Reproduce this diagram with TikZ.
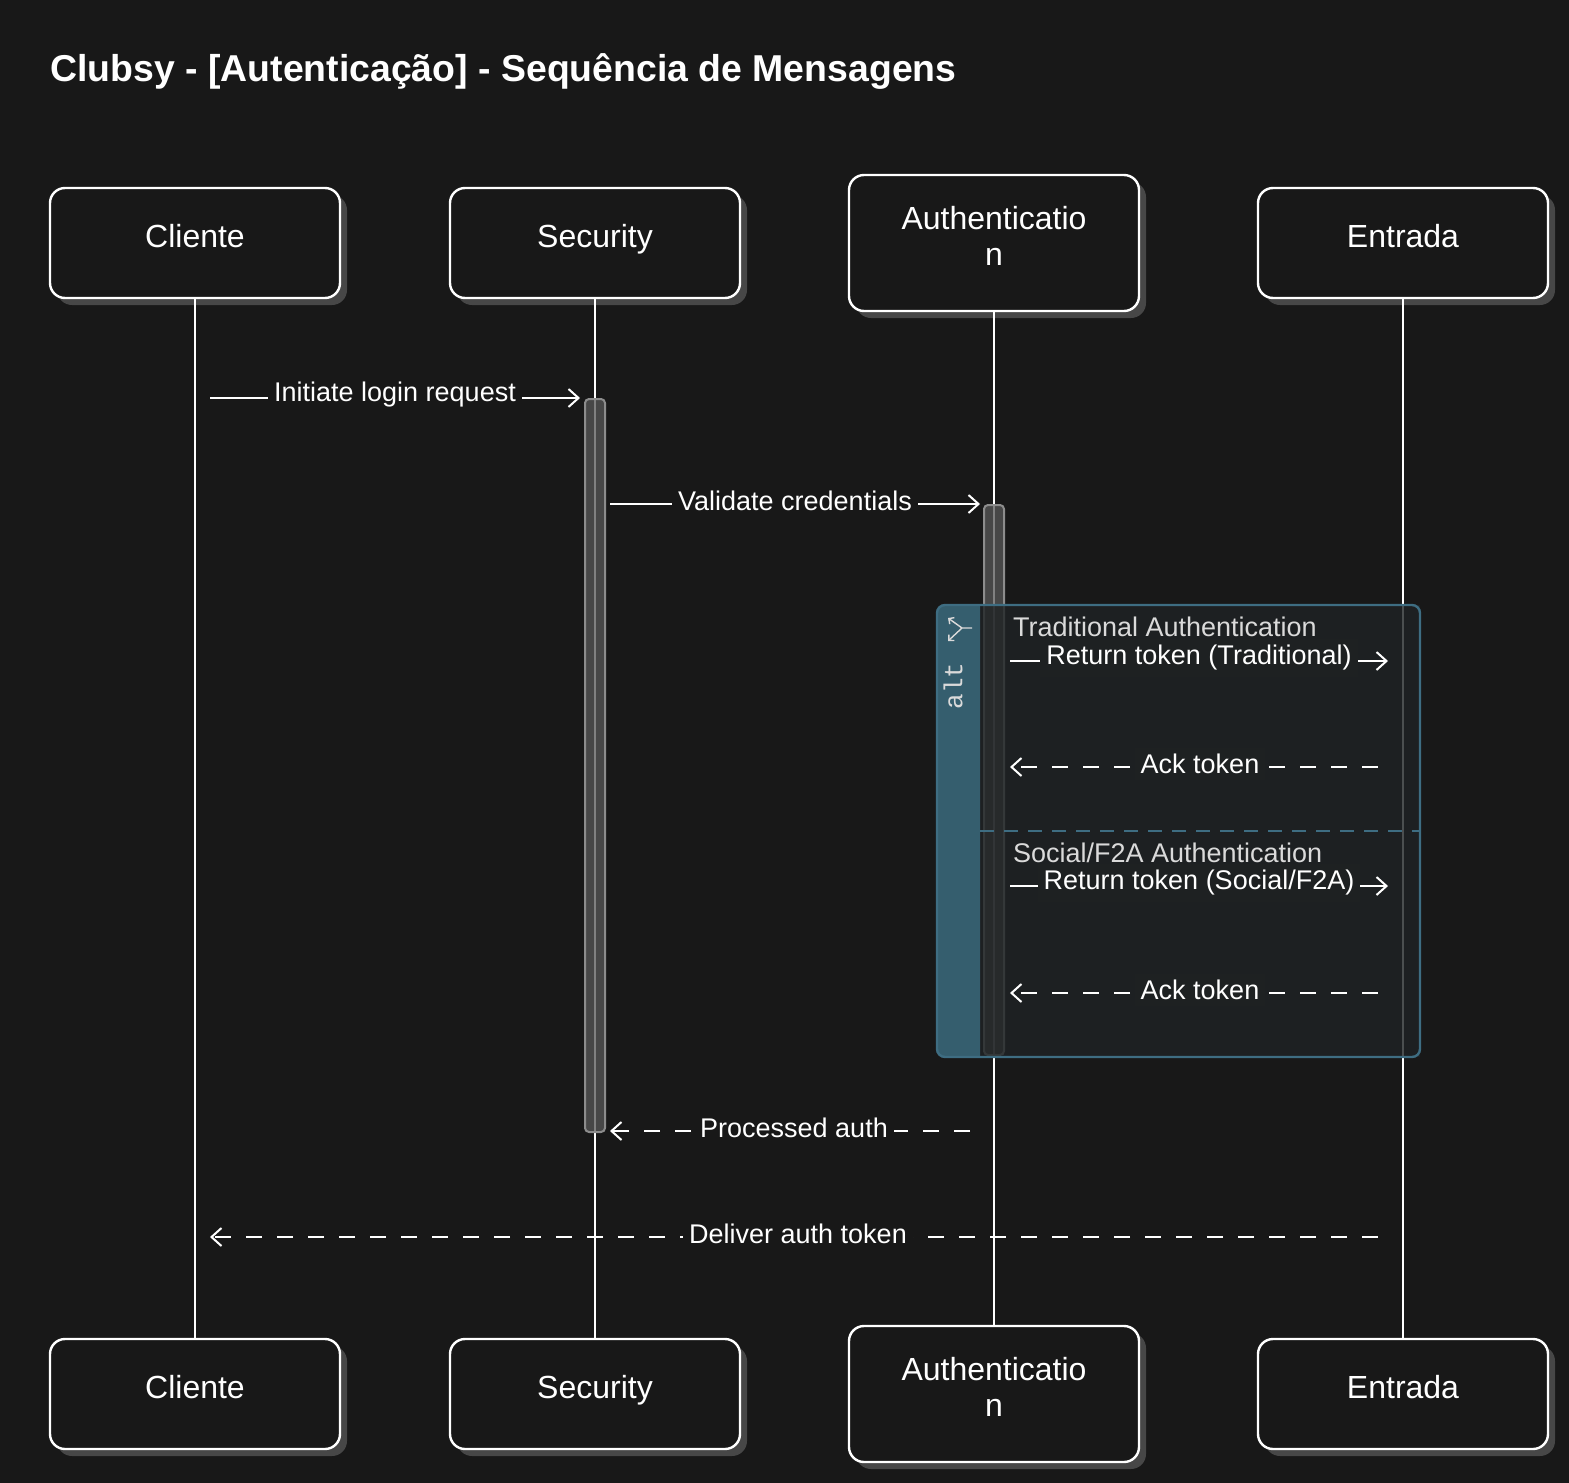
\documentclass[tikz,border=0pt]{standalone}
\usepackage{fontspec}
\setmainfont{Liberation Sans}
\setmonofont{Liberation Mono}
\usetikzlibrary{arrows.meta,calc,shadows}
\definecolor{bgdark}{HTML}{181818}
\definecolor{shadowgray}{HTML}{474747}
\definecolor{altblue}{HTML}{355E6E}
\definecolor{altedge}{HTML}{3E6D82}
\definecolor{altfill}{HTML}{1F2325}
\definecolor{actfill}{HTML}{575757}
\definecolor{actedge}{HTML}{8C8C8C}
\definecolor{lbl}{HTML}{DADADA}
\tikzset{
  actor/.style={draw=white, line width=1.2pt, rounded corners=7.5pt, fill=bgdark, text=white,
    minimum width=145pt, align=center, font=\fontsize{16}{18}\selectfont,
    drop shadow={shadow xshift=3.5pt, shadow yshift=-3.5pt, fill=shadowgray, opacity=1}},
  life/.style={white, line width=1pt},
  act/.style={draw=actedge, fill=actfill, fill opacity=0.75, line width=1pt, rounded corners=2pt},
  msg/.style={white, line width=1pt, -{Straight Barb[length=5pt,width=9pt]}},
  reply/.style={msg, dash pattern=on 8pt off 7.5pt},
  mlabel/.style={fill=bgdark, text=white, inner sep=3pt, yshift=1.5pt, font=\fontsize{13.5}{15}\selectfont},
  inlabel/.style={mlabel, fill=altfill!80!bgdark},
}

\begin{document}
\begin{tikzpicture}[x=0.5pt, y=-0.5pt]
  \fill[bgdark] (0,0) rectangle (1569,1483);
  \useasboundingbox (0,0) rectangle (1569,1483);
  \node[anchor=west, inner sep=0pt, text=white, font=\bfseries\fontsize{18.7}{22}\selectfont] (title) at (50,72)
    {Clubsy - [Autenticação] - Sequência de Mensagens};
  % participants, top and bottom
  \foreach \n/\x/\h/\l in {cli/195/55/Cliente, sec/595/55/Security, auth/994/68/{Authenticatio\\n}, ent/1403/55/Entrada}{
    \node[actor, minimum height=\h pt] (\n) at (\x,243) {\l\rule[-7pt]{0pt}{0pt}};
    \node[actor, minimum height=\h pt] (\n2) at (\x,1394) {\l\rule[-7pt]{0pt}{0pt}};
    \draw[life] (\n.south) -- (\n2.north);}
  % activations
  \draw[act] (585,399) rectangle (605,1132);
  \draw[act] (984,505) rectangle (1004,1055);
  % alt frame
  \fill[altfill, fill opacity=0.8] (980,605) rectangle (1420,1057);
  \fill[altblue] (980,605) [rounded corners=4pt] -- (937,605) -- (937,1057) [sharp corners] -- (980,1057) -- cycle;
  \draw[altedge, line width=1.2pt, rounded corners=4pt] (937,605) rectangle (1420,1057);
  \draw[altedge, line width=1pt, dash pattern=on 7pt off 5pt] (980,831) -- (1420,831);
  \node[rotate=90, text=lbl, font=\ttfamily\fontsize{13}{15}\selectfont] (alttag) at (953,686) {alt};
  \draw[lbl, line width=0.7pt, -{Straight Barb[length=2pt,width=4pt]}] (972,628) -- (962,628) -- (948,618);
  \draw[lbl, line width=0.7pt, -{Straight Barb[length=2pt,width=4pt]}] (962,628) -- (948,641);
  \node[anchor=west, text=lbl, font=\fontsize{13.5}{15}\selectfont] (case1) at (1006,627) {Traditional Authentication};
  \node[anchor=west, text=lbl, font=\fontsize{13.5}{15}\selectfont] (case2) at (1006,853) {Social/F2A Authentication};
  % message ends on the lifelines
  \coordinate (m1a) at (210,398);  \coordinate (m1b) at (580,398);
  \coordinate (m2a) at (610,504);  \coordinate (m2b) at (980,504);
  \coordinate (m3a) at (1010,661); \coordinate (m3b) at (1388,661);
  \coordinate (m4a) at (1378,767); \coordinate (m4b) at (1010,767);
  \coordinate (m5a) at (1010,886); \coordinate (m5b) at (1388,886);
  \coordinate (m6a) at (1378,993); \coordinate (m6b) at (1010,993);
  \coordinate (m7a) at (970,1131); \coordinate (m7b) at (610,1131);
  \coordinate (m8a) at (1378,1237); \coordinate (m8b) at (210,1237);
  % messages
  \draw[msg] (m1a) -- node[mlabel]{Initiate login request} (m1b);
  \draw[msg] (m2a) -- node[mlabel]{Validate credentials} (m2b);
  \draw[msg] (m3a) -- node[inlabel]{Return token (Traditional)} (m3b);
  \draw[reply] (m4a) -- node[inlabel, xshift=3pt]{Ack token} (m4b);
  \draw[msg] (m5a) -- node[inlabel]{Return token (Social/F2A)} (m5b);
  \draw[reply] (m6a) -- node[inlabel, xshift=3pt]{Ack token} (m6b);
  \draw[reply] (m7a) -- node[mlabel, xshift=2pt]{Processed auth} (m7b);
  \draw[reply] (m8a) -- node[mlabel, xshift=2pt]{Deliver auth token} (m8b);
\end{tikzpicture}
\end{document}
